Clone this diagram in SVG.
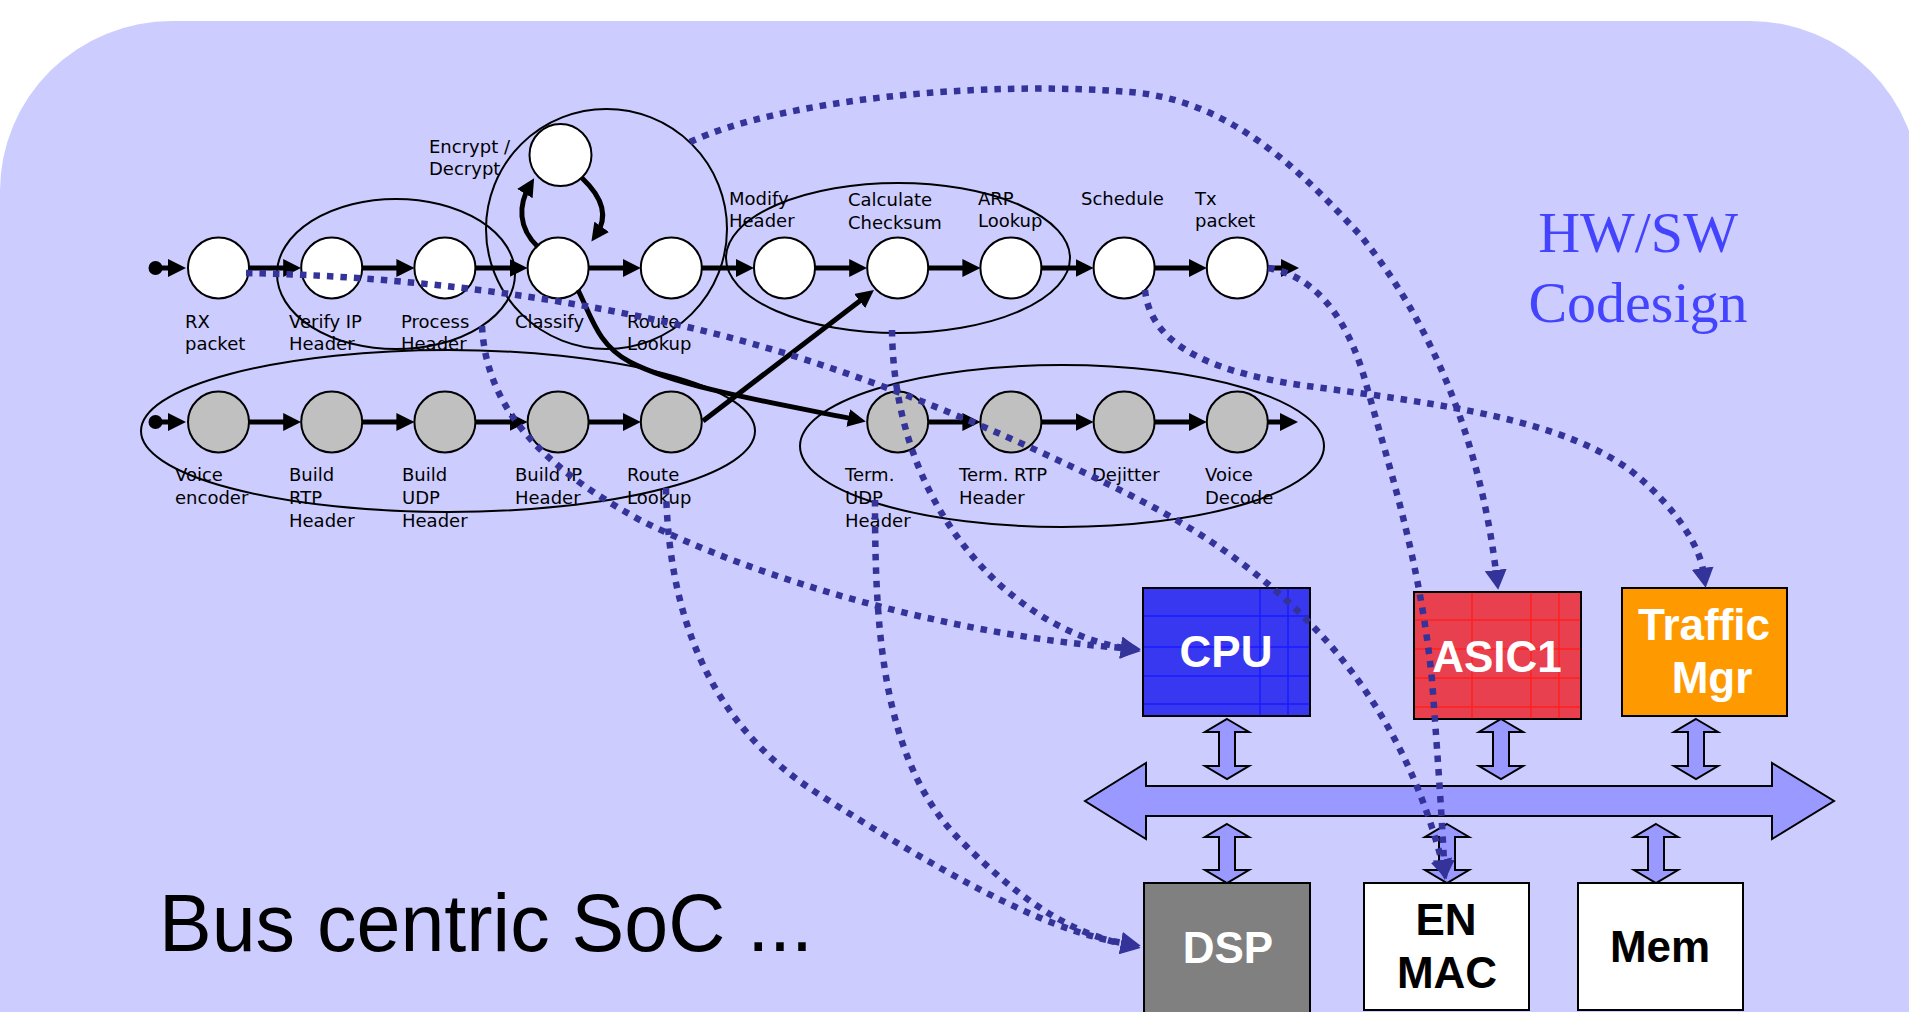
<svg xmlns="http://www.w3.org/2000/svg" width="1909" height="1012" viewBox="0 0 1909 1012">
<defs>
<style>
.lbl{font-family:"DejaVu Sans","Liberation Sans",sans-serif;font-size:18px;fill:#000}
.nw{fill:#fff;stroke:#000;stroke-width:2}
.ng{fill:#c0c0c0;stroke:#000;stroke-width:2}
.cl{fill:none;stroke:#000;stroke-width:2}
.ar{fill:none;stroke:#000;stroke-width:5;marker-end:url(#ah)}
.dt{fill:none;stroke:#333399;stroke-width:6.5;stroke-dasharray:6.5 7;marker-end:url(#ad)}
.box{stroke:#000;stroke-width:2}
.bt{font-family:"Liberation Sans",Arial,sans-serif;font-weight:bold;font-size:44px;text-anchor:middle}
.dbl{fill:#9999ff;stroke:#000;stroke-width:2;stroke-linejoin:miter}
.gb{stroke:#1a1aff;stroke-width:1.5}
.gr{stroke:#ff2020;stroke-width:1.5}
</style>
<marker id="ah" markerUnits="userSpaceOnUse" markerWidth="18" markerHeight="18" viewBox="0 0 18 18" refX="10" refY="9" orient="auto"><path d="M0,0L18,9L0,18Z" fill="#000"/></marker>
<marker id="ad" markerUnits="userSpaceOnUse" markerWidth="20" markerHeight="22" viewBox="0 0 20 22" refX="2" refY="11" orient="auto"><path d="M0,0L20,11L0,22Z" fill="#333399"/></marker>
</defs>

<path id="background" d="M0,1012V191A172,170 0 0 1 172,21H1750A170,170 0 0 1 1920,191V1012Z" fill="#ccccff"/>

<g id="title">
<text x="159" y="951" font-family="Liberation Sans,Arial,sans-serif" font-size="82" textLength="654" lengthAdjust="spacingAndGlyphs">Bus centric SoC ...</text>
</g>
<g id="codesign" font-family="Liberation Serif,Times New Roman,serif" font-size="58" fill="#4444ff" text-anchor="middle">
<text x="1638" y="252">HW/SW</text>
<text x="1638" y="322">Codesign</text>
</g>

<g id="bus">
<polygon class="dbl" points="1085,801 1146,763 1146,786 1772,786 1772,763 1834,801 1772,839 1772,816 1146,816 1146,839"/>
<polygon class="dbl" points="1227,719 1249,732 1235,732 1235,766 1249,766 1227,779 1205,766 1219,766 1219,732 1205,732"/>
<polygon class="dbl" points="1501,719 1523,732 1509,732 1509,766 1523,766 1501,779 1479,766 1493,766 1493,732 1479,732"/>
<polygon class="dbl" points="1696,719 1718,732 1704,732 1704,766 1718,766 1696,779 1674,766 1688,766 1688,732 1674,732"/>
<polygon class="dbl" points="1227,824 1249,837 1235,837 1235,870 1249,870 1227,883 1205,870 1219,870 1219,837 1205,837"/>
<polygon class="dbl" points="1447,824 1469,837 1455,837 1455,870 1469,870 1447,883 1425,870 1439,870 1439,837 1425,837"/>
<polygon class="dbl" points="1656,824 1678,837 1664,837 1664,870 1678,870 1656,883 1634,870 1648,870 1648,837 1634,837"/>
</g>

<g id="cpu">
<rect class="box" x="1143" y="588" width="167" height="128" fill="#3838f0"/>
<path class="gb" d="M1144,616H1309M1144,647H1309M1144,676H1309M1144,704H1309M1260,589V715M1288,589V715"/>
<rect x="1143" y="588" width="167" height="128" fill="none" stroke="#000" stroke-width="2"/>
<text class="bt" x="1226" y="667" fill="#fff">CPU</text>
</g>
<g id="asic1">
<rect class="box" x="1414" y="592" width="167" height="127" fill="#e8404f"/>
<path class="gr" d="M1415,620H1580M1415,649H1580M1415,678H1580M1415,707H1580M1472,593V718M1531,593V718M1559,593V718"/>
<rect x="1414" y="592" width="167" height="127" fill="none" stroke="#000" stroke-width="2"/>
<text class="bt" x="1497" y="672" fill="#fff">ASIC1</text>
</g>
<g id="traffic-mgr">
<rect class="box" x="1622" y="588" width="165" height="128" fill="#ff9900"/>
<text class="bt" x="1704" y="640" fill="#fff">Traffic</text>
<text class="bt" x="1712" y="693" fill="#fff">Mgr</text>
</g>
<g id="dsp">
<rect class="box" x="1144" y="883" width="166" height="135" fill="#808080"/>
<text class="bt" x="1228" y="963" fill="#fff">DSP</text>
</g>
<g id="en-mac">
<rect class="box" x="1364" y="883" width="165" height="127" fill="#fff"/>
<text class="bt" x="1446" y="935" fill="#000">EN</text>
<text class="bt" x="1447" y="988" fill="#000">MAC</text>
</g>
<g id="mem">
<rect class="box" x="1578" y="883" width="165" height="127" fill="#fff"/>
<text class="bt" x="1660" y="962" fill="#000">Mem</text>
</g>

<g id="clusters">
<ellipse id="cluster-verify" class="cl" cx="396" cy="274" rx="119" ry="75"/>
<ellipse id="cluster-classify" class="cl" cx="606.5" cy="229" rx="120.5" ry="120"/>
<ellipse id="cluster-modify" class="cl" cx="898" cy="258" rx="172" ry="75"/>
<ellipse id="cluster-voice-tx" class="cl" cx="448" cy="431" rx="307" ry="81"/>
<ellipse id="cluster-voice-rx" class="cl" cx="1062" cy="446" rx="262" ry="81"/>
</g>

<g id="start-top"><circle cx="155.5" cy="268" r="7"/></g>
<g id="start-bottom"><circle cx="155.5" cy="422" r="7"/></g>

<g id="n-rx"><ellipse class="nw" cx="218.5" cy="268" rx="30.5" ry="30.5"/><text class="lbl" x="185" y="328">RX</text><text class="lbl" x="185" y="350">packet</text></g>
<g id="n-verify"><ellipse class="nw" cx="331.7" cy="268" rx="30.5" ry="30.5"/><text class="lbl" x="289" y="328">Verify IP</text><text class="lbl" x="289" y="350">Header</text></g>
<g id="n-process"><ellipse class="nw" cx="444.9" cy="268" rx="30.5" ry="30.5"/><text class="lbl" x="401" y="328">Process</text><text class="lbl" x="401" y="350">Header</text></g>
<g id="n-classify"><ellipse class="nw" cx="558.1" cy="268" rx="30.5" ry="30.5"/><text class="lbl" x="515" y="328">Classify</text></g>
<g id="n-encrypt"><ellipse class="nw" cx="560.5" cy="155" rx="31" ry="31"/><text class="lbl" x="429" y="153">Encrypt /</text><text class="lbl" x="429" y="175">Decrypt</text></g>
<g id="n-route"><ellipse class="nw" cx="671.3" cy="268" rx="30.5" ry="30.5"/><text class="lbl" x="627" y="328">Route</text><text class="lbl" x="627" y="350">Lookup</text></g>
<g id="n-modify"><ellipse class="nw" cx="784.5" cy="268" rx="30.5" ry="30.5"/><text class="lbl" x="729" y="205">Modify</text><text class="lbl" x="729" y="227">Header</text></g>
<g id="n-checksum"><ellipse class="nw" cx="897.7" cy="268" rx="30.5" ry="30.5"/><text class="lbl" x="848" y="206">Calculate</text><text class="lbl" x="848" y="229">Checksum</text></g>
<g id="n-arp"><ellipse class="nw" cx="1010.9" cy="268" rx="30.5" ry="30.5"/><text class="lbl" x="978" y="205">ARP</text><text class="lbl" x="978" y="227">Lookup</text></g>
<g id="n-schedule"><ellipse class="nw" cx="1124.1" cy="268" rx="30.5" ry="30.5"/><text class="lbl" x="1081" y="205">Schedule</text></g>
<g id="n-tx"><ellipse class="nw" cx="1237.3" cy="268" rx="30.5" ry="30.5"/><text class="lbl" x="1195" y="205">Tx</text><text class="lbl" x="1195" y="227">packet</text></g>

<g id="n-voice-enc"><ellipse class="ng" cx="218.5" cy="422" rx="30.5" ry="30.5"/><text class="lbl" x="175" y="481">Voice</text><text class="lbl" x="175" y="504">encoder</text></g>
<g id="n-build-rtp"><ellipse class="ng" cx="331.7" cy="422" rx="30.5" ry="30.5"/><text class="lbl" x="289" y="481">Build</text><text class="lbl" x="289" y="504">RTP</text><text class="lbl" x="289" y="527">Header</text></g>
<g id="n-build-udp"><ellipse class="ng" cx="444.9" cy="422" rx="30.5" ry="30.5"/><text class="lbl" x="402" y="481">Build</text><text class="lbl" x="402" y="504">UDP</text><text class="lbl" x="402" y="527">Header</text></g>
<g id="n-build-ip"><ellipse class="ng" cx="558.1" cy="422" rx="30.5" ry="30.5"/><text class="lbl" x="515" y="481">Build IP</text><text class="lbl" x="515" y="504">Header</text></g>
<g id="n-route2"><ellipse class="ng" cx="671.3" cy="422" rx="30.5" ry="30.5"/><text class="lbl" x="627" y="481">Route</text><text class="lbl" x="627" y="504">Lookup</text></g>
<g id="n-term-udp"><ellipse class="ng" cx="897.7" cy="422" rx="30.5" ry="30.5"/><text class="lbl" x="845" y="481">Term.</text><text class="lbl" x="845" y="504">UDP</text><text class="lbl" x="845" y="527">Header</text></g>
<g id="n-term-rtp"><ellipse class="ng" cx="1010.9" cy="422" rx="30.5" ry="30.5"/><text class="lbl" x="959" y="481">Term. RTP</text><text class="lbl" x="959" y="504">Header</text></g>
<g id="n-dejitter"><ellipse class="ng" cx="1124.1" cy="422" rx="30.5" ry="30.5"/><text class="lbl" x="1092" y="481">Dejitter</text></g>
<g id="n-voice-dec"><ellipse class="ng" cx="1237.3" cy="422" rx="30.5" ry="30.5"/><text class="lbl" x="1205" y="481">Voice</text><text class="lbl" x="1205" y="504">Decode</text></g>

<g id="connectors">
<path class="ar" d="M158,268H178"/>
<path class="ar" d="M249,268H293.2"/>
<path class="ar" d="M362.2,268H406.4"/>
<path class="ar" d="M475.4,268H519.6"/>
<path class="ar" d="M588.6,268H632.8"/>
<path class="ar" d="M701.8,268H746"/>
<path class="ar" d="M815,268H859.2"/>
<path class="ar" d="M928.2,268H972.4"/>
<path class="ar" d="M1041.4,268H1085.6"/>
<path class="ar" d="M1154.6,268H1198.8"/>
<path class="ar" d="M1267.8,268H1291"/>
<path class="ar" d="M158,422H178"/>
<path class="ar" d="M249,422H293.2"/>
<path class="ar" d="M362.2,422H406.4"/>
<path class="ar" d="M475.4,422H519.6"/>
<path class="ar" d="M588.6,422H632.8"/>
<path class="ar" d="M928.2,422H972.4"/>
<path class="ar" d="M1041.4,422H1085.6"/>
<path class="ar" d="M1154.6,422H1198.8"/>
<path class="ar" d="M1267.8,422H1290"/>
<path class="ar" d="M538,247C518,228 518,205 530,185"/>
<path class="ar" d="M582,178C600,195 610,215 596,235"/>
<path class="ar" d="M578,290C592,318 598,345 630,362C680,388 780,404 858,420"/>
<path class="ar" d="M703,421L867.6,294.9"/>

<path class="dt" d="M246,273C400,276 560,296 700,330C850,366 1000,430 1130,495C1300,580 1400,700 1442,862"/>
<path class="dt" d="M1268,268C1310,275 1345,310 1365,380C1390,470 1420,560 1432,680C1438,760 1442,820 1444,862"/>
<path class="dt" d="M482,326C486,400 530,460 640,520C760,580 950,635 1123,648"/>
<path class="dt" d="M892,330C893,430 930,520 1000,585C1040,620 1080,640 1123,648"/>
<path class="dt" d="M690,142C780,100 980,80 1130,92C1230,100 1300,170 1360,235C1430,320 1480,440 1496,572"/>
<path class="dt" d="M1145,290C1150,340 1200,370 1300,385C1450,405 1560,420 1630,470C1680,510 1700,550 1703,570"/>
<path class="dt" d="M666,488C668,600 700,720 820,795C930,865 1040,930 1123,943"/>
<path class="dt" d="M875,500C875,620 880,760 960,840C1010,890 1060,930 1123,944"/>
</g>
</svg>
